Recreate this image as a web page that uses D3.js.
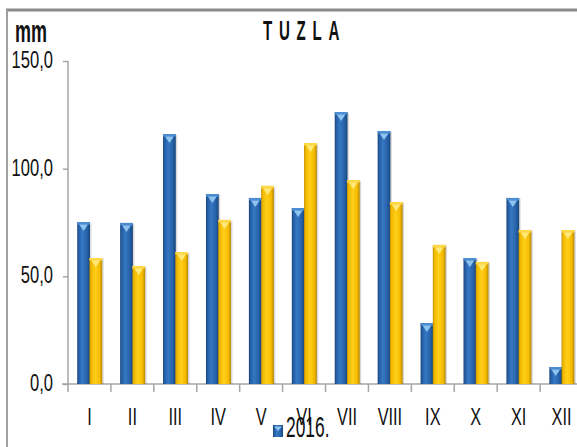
<!DOCTYPE html>
<html>
<head>
<meta charset="utf-8">
<script src="https://cdn.jsdelivr.net/npm/d3@7"></script>
<style>
  body { margin: 0; background: #fff; }
  svg { display: block; font-family: "Liberation Sans", Arial, sans-serif; }
</style>
</head>
<body>
<svg width="577" height="447"></svg>
<script>
// monthly precipitation, Tuzla
const months = ["I", "II", "III", "IV", "V", "VI", "VII", "VIII", "IX", "X", "XI", "XII"];
const series = ["2016.", "prosjek"];
const values2016 = [75.2, 74.8, 116.1, 88.2, 86.4, 81.7, 126.3, 117.5, 28.3, 58.5, 86.4, 7.9];
const valuesAvg = [58.5, 54.8, 61.3, 76.2, 92.0, 111.9, 94.7, 84.5, 64.6, 56.7, 71.5, 71.5];
const yTicks = [0, 50, 100, 150];

const svg = d3.select("svg");
const margin = { left: 68, top: 61, bottom: 384 };

const data = months.map((m, i) => ({ month: m, values: [values2016[i], valuesAvg[i]] }));

const x = d3.scaleBand()
  .domain(months)
  .range([margin.left, margin.left + 12 * 42.92])
  .paddingInner(0.43)
  .paddingOuter(0.215);

const xs = d3.scaleBand()
  .domain(series)
  .range([0, x.bandwidth()]);

const y = d3.scaleLinear()
  .domain([0, 150])
  .range([margin.bottom, margin.top]);

// gradients for the 3d bar look
const defs = svg.append("defs");
const grad = (id, stops) => {
  const g = defs.append("linearGradient").attr("id", id)
    .attr("x1", 0).attr("x2", 1).attr("y1", 0).attr("y2", 0);
  stops.forEach(([o, c]) => g.append("stop").attr("offset", o).attr("stop-color", c));
};
grad("blueBody", [["0%", "#163f70"], ["12%", "#245ea6"], ["40%", "#3678c2"], ["75%", "#2763aa"], ["100%", "#17457b"]]);
grad("yellowBody", [["0%", "#b98a00"], ["12%", "#f0b800"], ["45%", "#ffcf1a"], ["80%", "#f5bb00"], ["100%", "#b48600"]]);

const colors = {
  body: ["url(#blueBody)", "url(#yellowBody)"],
  strip: ["#4d8ed3", "#ffd84a"],
  cap: ["#8ec3f0", "#ffe97a"]
};

// frame
svg.append("rect").attr("x", 0).attr("y", 0).attr("width", 577).attr("height", 447).attr("fill", "#fff");
svg.append("line").attr("x1", 6).attr("x2", 577).attr("y1", 10).attr("y2", 10)
  .attr("stroke", "#8a8a8a").attr("stroke-width", 3);
svg.append("line").attr("x1", 7).attr("x2", 7).attr("y1", 10).attr("y2", 447)
  .attr("stroke", "#a0a0a0").attr("stroke-width", 2);

// y axis
const yAxis = svg.append("g")
  .attr("transform", `translate(${margin.left},0)`)
  .call(d3.axisLeft(y).tickValues(yTicks).tickSize(5).tickFormat(() => ""));
yAxis.select(".domain").attr("stroke", "#a6a6a6").attr("stroke-width", 1.5)
  .attr("d", `M0,${margin.top}V${margin.bottom}`);
yAxis.selectAll(".tick line").attr("stroke", "#a6a6a6").attr("stroke-width", 1.5);

svg.append("g").selectAll("text")
  .data(yTicks)
  .join("text")
  .attr("transform", d => `translate(53,${y(d) + 7}) scale(0.72,1)`)
  .attr("text-anchor", "end")
  .attr("font-size", 23)
  .attr("fill", "#111")
  .text(d => d3.format(".1f")(d).replace(".", ","));

// x axis line and ticks between categories
svg.append("line")
  .attr("x1", 62).attr("x2", 577)
  .attr("y1", y(0)).attr("y2", y(0))
  .attr("stroke", "#a6a6a6").attr("stroke-width", 1.5);

const gap = (x.step() - x.bandwidth()) / 2;
svg.append("g").selectAll("line")
  .data(months)
  .join("line")
  .attr("x1", d => x(d) - gap).attr("x2", d => x(d) - gap)
  .attr("y1", y(0)).attr("y2", y(0) + 8)
  .attr("stroke", "#a6a6a6").attr("stroke-width", 1.5);

// bars
const bars = svg.append("g").selectAll("g")
  .data(data)
  .join("g")
  .attr("transform", d => `translate(${x(d.month)},0)`);

bars.selectAll("g")
  .data(d => d.values.map((v, i) => ({ key: series[i], i, v })))
  .join("g")
  .each(function (d) {
    const g = d3.select(this);
    const bx = xs(d.key), bw = xs.bandwidth() + 0.5, top = y(d.v), h = y(0) - top;
    g.append("rect")
      .attr("x", bx + 1.5).attr("y", top + 1).attr("width", bw).attr("height", h - 1)
      .attr("fill", "#000").attr("opacity", 0.15);
    g.append("rect")
      .attr("x", bx).attr("y", top).attr("width", bw).attr("height", h)
      .attr("fill", colors.body[d.i]);
    g.append("rect")
      .attr("x", bx).attr("y", top).attr("width", bw).attr("height", Math.min(2.5, h))
      .attr("fill", colors.strip[d.i]);
    if (h > 6) {
      g.append("path")
        .attr("d", `M${bx + 2},${top + 2.5}L${bx + bw - 2},${top + 2.5}L${bx + bw / 2},${top + 9}Z`)
        .attr("fill", colors.cap[d.i]);
    }
  });

// x labels
svg.append("g").selectAll("text")
  .data(months)
  .join("text")
  .attr("transform", d => `translate(${x(d) + x.bandwidth() / 2},425) scale(0.68,1)`)
  .attr("text-anchor", "middle")
  .attr("font-size", 24)
  .attr("fill", "#111")
  .text(d => d);

// unit and title
svg.append("text")
  .attr("transform", "translate(15,42) scale(0.58,1)")
  .attr("font-size", 31).attr("font-weight", "bold").attr("fill", "#111")
  .text("mm");

svg.append("text")
  .attr("transform", "translate(263,40) scale(0.56,1)")
  .attr("font-size", 27).attr("font-weight", "bold").attr("fill", "#111")
  .attr("letter-spacing", 12)
  .text("TUZLA");

// legend (only the first entry fits in the picture)
const leg = svg.append("g").attr("transform", "translate(273,425)");
leg.append("rect").attr("width", 10).attr("height", 12).attr("fill", "url(#blueBody)");
leg.append("path").attr("d", "M1,1.5L9,1.5L5,6Z").attr("fill", colors.cap[0]);
svg.append("text")
  .attr("transform", "translate(286,437) scale(0.58,1)")
  .attr("font-size", 30).attr("fill", "#111")
  .text(series[0]);
</script>
</body>
</html>
